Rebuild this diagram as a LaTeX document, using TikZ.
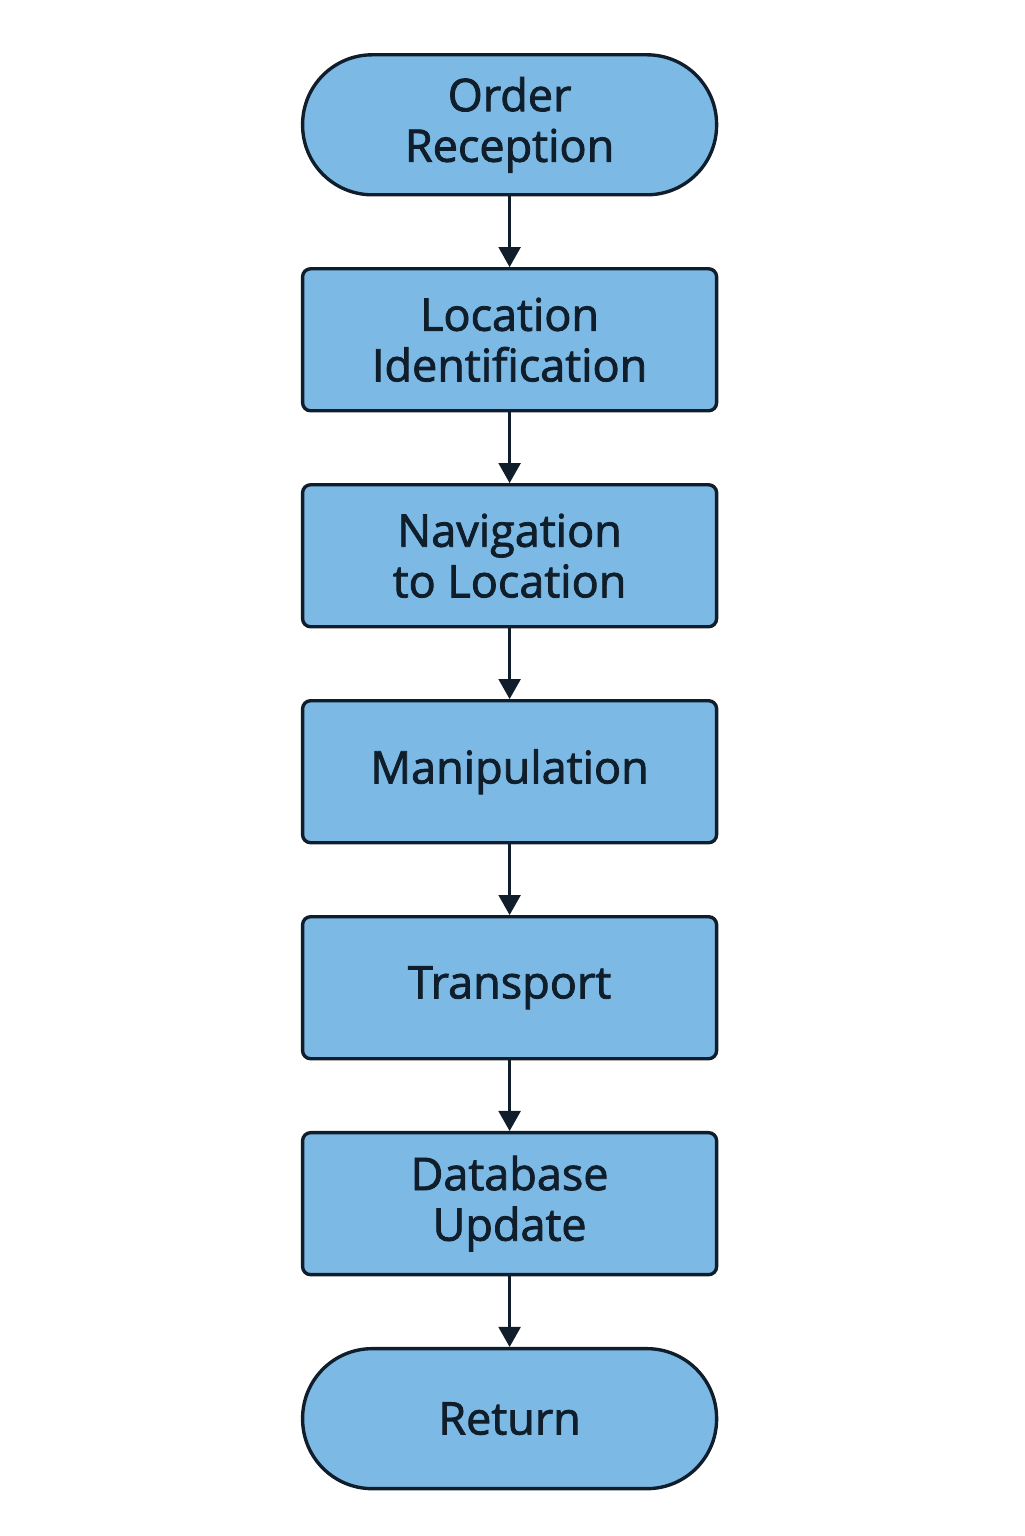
\documentclass[tikz,border=0pt]{standalone}
\usepackage{fontspec}
\setmainfont{Open Sans}[FakeBold=1.8]
\usetikzlibrary{positioning,arrows.meta}
\definecolor{boxblue}{HTML}{7CB9E5}
\definecolor{inkdark}{HTML}{0F1E2A}
\begin{document}
\begin{tikzpicture}[node distance=1.765cm,
        stepbox/.style={draw=inkdark, fill=boxblue, line width=2.4pt, rounded corners=0.2cm,
            minimum width=10.35cm, minimum height=3.55cm, align=center, text=inkdark,
            font=\fontsize{32}{36}\selectfont},
        terminal/.style={stepbox, rounded corners=1.74cm, minimum height=3.5cm},
        flow/.style={-{Triangle[length=0.5cm,width=0.55cm]}, draw=inkdark, line width=1.6pt}]
        \useasboundingbox (0,0) rectangle (25.6,-38.4);
        \node[terminal] (order) at (12.74,-3.12) {Order\\Reception};
        \node[stepbox, below=of order] (locate) {Location\\Identification};
        \node[stepbox, below=of locate] (navigate) {Navigation\\to Location};
        \node[stepbox, below=of navigate] (manip) {Manipulation};
        \node[stepbox, below=of manip] (transport) {Transport};
        \node[stepbox, below=of transport] (dbupdate) {Database\\Update};
        \node[terminal, below=of dbupdate] (return) {Return};
        \draw[flow] (order) -- (locate);
        \draw[flow] (locate) -- (navigate);
        \draw[flow] (navigate) -- (manip);
        \draw[flow] (manip) -- (transport);
        \draw[flow] (transport) -- (dbupdate);
        \draw[flow] (dbupdate) -- (return);
    \end{tikzpicture}
\end{document}
